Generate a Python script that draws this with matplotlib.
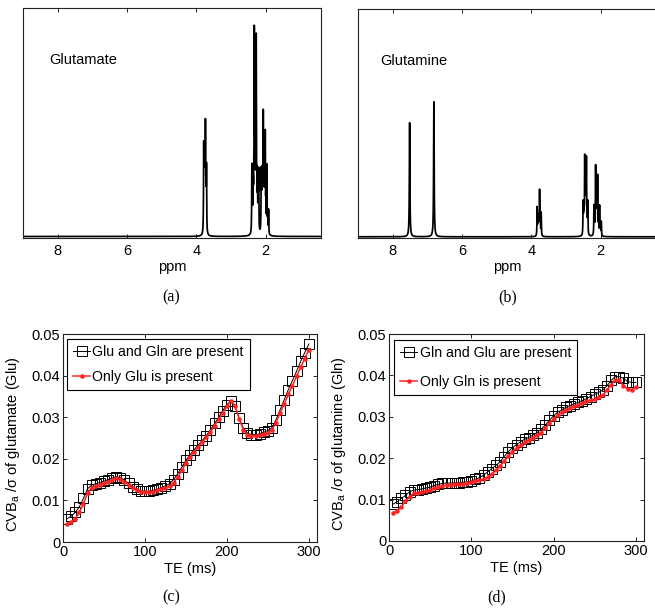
import numpy as np
import matplotlib
matplotlib.use("Agg")
import matplotlib.pyplot as plt

plt.rcParams['font.family'] = ['Liberation Sans', 'DejaVu Sans']
plt.rcParams['mathtext.fontset'] = 'custom'
plt.rcParams['mathtext.rm'] = 'Liberation Sans'
plt.rcParams['mathtext.it'] = 'Liberation Sans'
plt.rcParams['axes.linewidth'] = 0.8

# ---------------- spectra: peak lists (ppm, relative height) ----------------
glu_ppm = [3.785, 3.772, 3.76, 3.748, 3.735, 3.72, 3.705,
           2.395, 2.375, 2.355, 2.34, 2.325, 2.31, 2.298, 2.283, 2.27, 2.252, 2.235, 2.215, 2.20,
           2.125, 2.11, 2.095, 2.08, 2.066, 2.05, 2.035, 2.02, 2.009, 1.99, 1.963, 1.94, 1.914]
glu_height = [80, 50, 62, 45, 96, 42, 62,
              66, 35, 40, 45, 188, 60, 40, 60, 180, 40, 45, 40, 58,
              58, 40, 50, 40, 108, 42, 45, 38, 88, 35, 66, 20, 24]
gln_ppm = [7.51, 6.81,
           3.83, 3.81, 3.795, 3.78, 3.76, 3.74, 3.714,
           2.503, 2.488, 2.475, 2.457, 2.445, 2.433, 2.42, 2.409, 2.39, 2.37,
           2.19, 2.17, 2.143, 2.13, 2.115, 2.1, 2.086, 2.06, 2.029, 2.005, 1.98]
gln_height = [114, 135,
              28, 14, 17, 14, 44, 14, 23,
              31, 18, 22, 70, 25, 36, 25, 68, 22, 32,
              29, 16, 64, 24, 30, 22, 55, 20, 29, 12, 14]
spectrum_ticks = [8, 6, 4, 2]

# ---------------- CVB curves ----------------
te = [5, 10, 15, 20, 25, 30, 35, 40, 45, 50, 55, 60, 65, 70, 75, 80, 85, 90, 95, 100,
      105, 110, 115, 120, 125, 130, 135, 140, 145, 150, 155, 160, 165, 170, 175, 180,
      185, 190, 195, 200, 205, 210, 215, 220, 225, 230, 235, 240, 245, 250, 255, 260,
      265, 270, 275, 280, 285, 290, 295, 300]
glu_both = [.0056, .0062, .0071, .0085, .0105, .0128, .0137, .0140, .0143, .0146,
            .0150, .0154, .0157, .0155, .0149, .0141, .0133, .0127, .0123, .0122,
            .0122, .0124, .0127, .0131, .0135, .0140, .0150, .0164, .0180, .0196,
            .0210, .0222, .0233, .0244, .0256, .0270, .0285, .0300, .0316, .0330,
            .0340, .0326, .0298, .0274, .0262, .0258, .0258, .0260, .0264, .0268,
            .0275, .0294, .0318, .0342, .0366, .0388, .0410, .0434, .0455, .0476]
glu_only = [.0044, .0048, .0056, .0072, .0092, .0118, .0131, .0135, .0138, .0141,
            .0145, .0150, .0154, .0151, .0145, .0137, .0130, .0125, .0121, .0120,
            .0119, .0121, .0124, .0128, .0131, .0134, .0143, .0156, .0172, .0190,
            .0205, .0217, .0228, .0240, .0252, .0265, .0280, .0295, .0311, .0326,
            .0339, .0328, .0296, .0270, .0258, .0255, .0255, .0257, .0260, .0263,
            .0270, .0287, .0310, .0332, .0355, .0376, .0398, .0420, .0441, .0462]
gln_both = [.0089, .0095, .0103, .0110, .0119, .0123, .0124, .0126, .0128, .0130,
            .0134, .0137, .0139, .0140, .0140, .0141, .0141, .0142, .0143, .0145,
            .0149, .0153, .0159, .0167, .0175, .0183, .0191, .0204, .0216, .0225,
            .0233, .0240, .0246, .0250, .0256, .0262, .0270, .0280, .0292, .0302,
            .0311, .0317, .0323, .0327, .0331, .0335, .0339, .0344, .0349, .0354,
            .0359, .0365, .0375, .0388, .0397, .0397, .0393, .0385, .0383, .0383]
gln_only = [.0068, .0073, .0082, .0096, .0107, .0115, .0117, .0119, .0120, .0123,
            .0127, .0131, .0133, .0135, .0136, .0137, .0137, .0138, .0140, .0142,
            .0144, .0147, .0150, .0155, .0162, .0171, .0181, .0193, .0205, .0216,
            .0225, .0233, .0238, .0244, .0250, .0256, .0262, .0272, .0284, .0295,
            .0305, .0311, .0317, .0321, .0325, .0329, .0333, .0337, .0341, .0342,
            .0347, .0353, .0365, .0377, .0389, .0388, .0375, .0367, .0365, .0372]
cvb_yticks = [0, 0.01, 0.02, 0.03, 0.04, 0.05]
cvb_yticklabels = ['0', '0.01', '0.02', '0.03', '0.04', '0.05']
cvb_xticks = [0, 100, 200, 300]

W, H = 655, 610
fig = plt.figure(figsize=(W / 100, H / 100), dpi=100)


def box(l, t, r, b):
    return [l / W, 1 - b / H, (r - l) / W, (b - t) / H]


def spectrum(ppm_axis, pos, hts, hw=0.006):
    s = np.zeros_like(ppm_axis)
    for p, h in zip(pos, hts):
        w = hw if p < 5 else 0.009
        s += h * w ** 2 / ((ppm_axis - p) ** 2 + w ** 2)
    return s


ppm = np.linspace(9.2, 0.3, 60000)


def style_spec(ax):
    ax.set_xlim(9, 0.4)
    ax.set_xticks(spectrum_ticks)
    ax.set_yticks([])
    ax.tick_params(axis='x', direction='in', top=True, length=3, width=0.6,
                   labelsize=10.5, pad=4)
    ax.set_xlabel('ppm', fontsize=10.5, labelpad=1.5)
    for s in ax.spines.values():
        s.set_color('#222222')


ax_a = fig.add_axes(box(23, 8, 321, 238))
ax_a.plot(ppm, spectrum(ppm, glu_ppm, glu_height), color='black', lw=1.25)
ax_a.set_ylim(-1.5, 228.5)
style_spec(ax_a)
ax_a.text(0.087, 0.774, 'Glutamate', transform=ax_a.transAxes, fontsize=10.5,
          va='center', ha='left')

ax_b = fig.add_axes(box(358, 9, 656, 238))
ax_b.plot(ppm, spectrum(ppm, gln_ppm, gln_height), color='black', lw=1.25)
ax_b.set_ylim(-1.2, 227.8)
style_spec(ax_b)
ax_b.text(0.074, 0.773, 'Glutamine', transform=ax_b.transAxes, fontsize=10.5,
          va='center', ha='left')


def style_cvb(ax, ylabel):
    ax.set_xlim(0, 310)
    ax.set_ylim(0, 0.05)
    ax.set_xticks(cvb_xticks)
    ax.set_yticks(cvb_yticks)
    ax.set_yticklabels(cvb_yticklabels)
    ax.tick_params(direction='in', top=True, right=True, length=3, width=0.6,
                   labelsize=10.5, pad=2)
    ax.set_xlabel('TE (ms)', fontsize=10.5, labelpad=2)
    ax.set_ylabel(ylabel, fontsize=10.5)
    for s in ax.spines.values():
        s.set_color('#222222')


def draw_cvb(ax, y_black, y_red, lab_black, lab_red, anchor, spacing):
    ax.plot(te, y_black, color='black', lw=0.7, marker='s', markersize=7,
            markerfacecolor='none', markeredgewidth=0.7, label=lab_black)
    ax.plot(te, y_red, color='#ff2222', lw=1.1, marker='.', markersize=4.5,
            label=lab_red)
    leg = ax.legend(loc='upper left', bbox_to_anchor=anchor, fontsize=10.2,
                    frameon=True, fancybox=False, framealpha=1, edgecolor='black',
                    handlelength=1.25, handletextpad=0.15, borderpad=0.4,
                    labelspacing=spacing, borderaxespad=0)
    leg.get_frame().set_linewidth(0.8)


ax_c = fig.add_axes(box(63, 334, 317, 542))
draw_cvb(ax_c, glu_both, glu_only, 'Glu and Gln are present', 'Only Glu is present',
         (4 / 254, 1 - 5 / 208), 0.8)
style_cvb(ax_c, r'CVB$_{\mathrm{a}}$ /σ of glutamate (Glu)')
ax_c.yaxis.set_label_coords(-0.16, 0.47)

ax_d = fig.add_axes(box(389, 334, 644, 541))
draw_cvb(ax_d, gln_both, gln_only, 'Gln and Glu are present', 'Only Gln is present',
         (5 / 255, 1 - 6 / 207), 1.1)
style_cvb(ax_d, r'CVB$_{\mathrm{a}}$ /σ of glutamine (Gln)')
ax_d.yaxis.set_label_coords(-0.16, 0.47)

for x, y, s in [(171, 297, '(a)'), (508, 297, '(b)'), (171, 597, '(c)'), (497, 597, '(d)')]:
    fig.text(x / W, 1 - y / H, s, ha='center', va='center', fontsize=11.5,
             family='Liberation Serif')

fig.savefig('out.png', dpi=100)
